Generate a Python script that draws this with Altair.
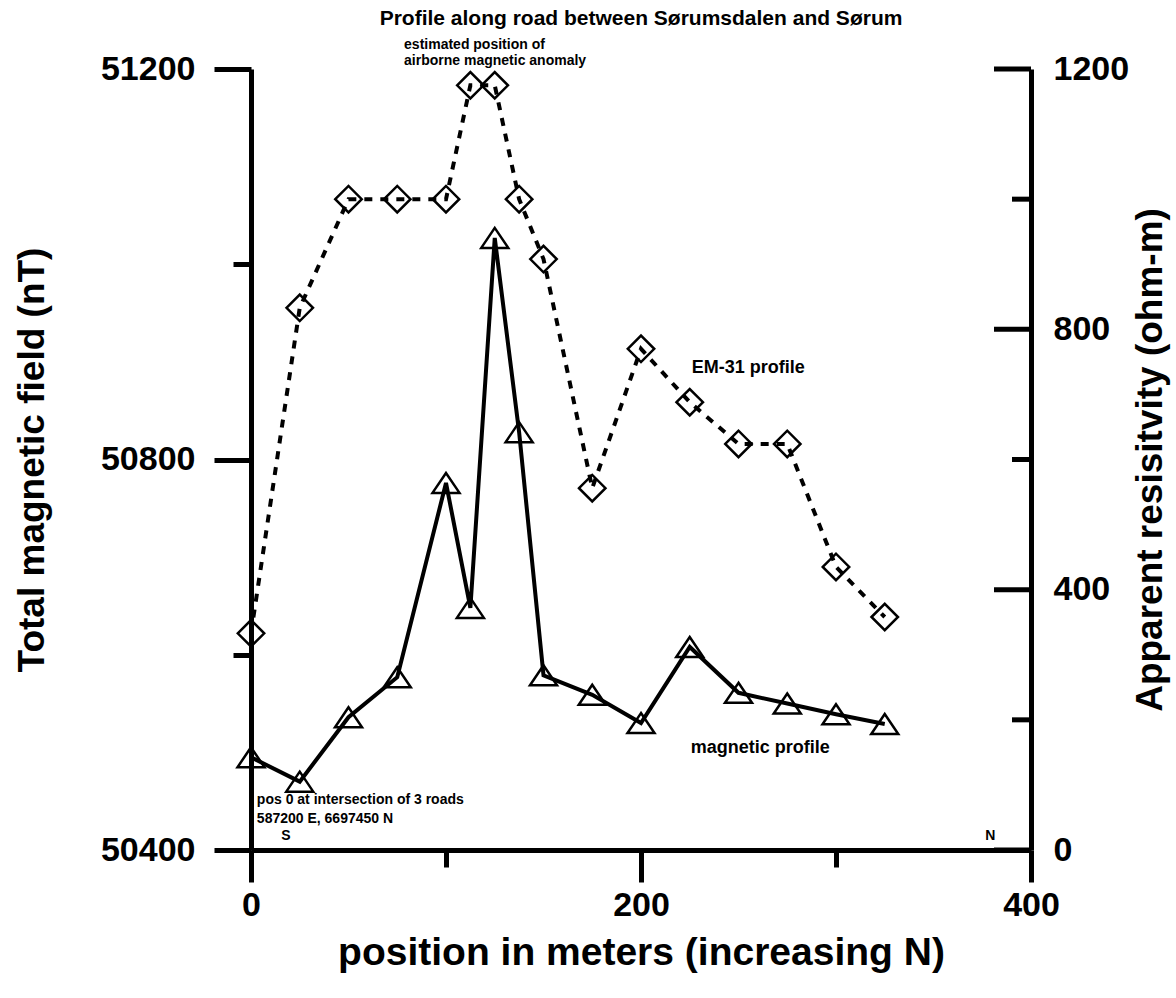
import altair as alt
import pandas as pd

# ---- data ----
positions = [0, 25, 50, 75, 100, 112.5, 125, 137.5, 150, 175, 200, 225, 250, 275, 300, 325]
magnetic_nT = [50495, 50470, 50536, 50577, 50776, 50648, 51027, 50828, 50579,
               50559, 50530, 50608, 50561, 50550, 50539, 50529]
resistivity = [333, 833, 1000, 1000, 1000, 1175, 1175, 1000, 908,
               556, 770, 688, 624, 624, 435, 358]

x_ticks = [0, 100, 200, 300, 400]
nT_ticks = [50400, 50600, 50800, 51000, 51200]
ohm_major = [0, 400, 800, 1200]
ohm_minor = [200, 600, 1000]

title_text = ["Profile along road between Sørumsdalen and Sørum"]

small_notes = ["estimated position of", "airborne magnetic anomaly",
               "pos 0 at intersection of 3 roads", "587200 E, 6697450 N", "S", "N"]
small_pos = [78.5, 78.5, 3, 3, 15.5, 376.5]
small_nT = [51225, 51208, 50451, 50432, 50414, 50414]

big_notes = ["EM-31 profile", "magnetic profile"]
big_pos = [226, 225.5]
big_nT = [50894, 50504]

W, H = 780, 781
FONT = "Liberation Sans"

df = pd.DataFrame({"pos": positions, "nT": magnetic_nT, "ohm": resistivity})

x_enc = alt.X(
    "pos:Q",
    scale=alt.Scale(domain=[0, 400], nice=False, zero=False),
    axis=alt.Axis(
        values=x_ticks, format="d",
        labelExpr="datum.value % 200 == 0 ? datum.label : ''",
        tickSize=alt.condition("datum.value % 200 == 0", alt.value(32), alt.value(17)),
        tickWidth=5, tickColor="black", domainWidth=5, domainColor="black",
        labelFont=FONT, labelFontSize=34, labelFontWeight="bold", labelColor="black",
        labelPadding=6, labelFlush=False, grid=False,
        title="position in meters (increasing N)", titleFont=FONT, titleFontSize=39,
        titleFontWeight="bold", titleColor="black",
        titleX=W / 2, titleY=102, titleAlign="center", titleBaseline="middle",
    ),
)

y_left = alt.Y(
    "nT:Q",
    scale=alt.Scale(domain=[50400, 51200], nice=False, zero=False),
    axis=alt.Axis(
        values=nT_ticks, format="d",
        labelExpr="datum.value % 400 == 0 ? datum.label : ''",
        tickSize=alt.condition("datum.value % 400 == 0", alt.value(37), alt.value(18)),
        tickWidth=5, tickColor="black", domainWidth=5, domainColor="black",
        labelFont=FONT, labelFontSize=34, labelFontWeight="bold", labelColor="black",
        labelPadding=19, labelFlush=False, grid=False,
        title="Total magnetic field (nT)", titleFont=FONT, titleFontSize=37,
        titleFontWeight="bold", titleColor="black", titleAngle=270,
        titleX=-219, titleY=H / 2, titleAlign="center", titleBaseline="middle",
    ),
)

y_right = alt.Y(
    "ohm:Q",
    scale=alt.Scale(domain=[0, 1200], nice=False, zero=True),
    axis=alt.Axis(
        orient="right", values=ohm_major, format="d", ticks=False,
        domainWidth=5, domainColor="black",
        labelFont=FONT, labelFontSize=34, labelFontWeight="bold", labelColor="black",
        labelPadding=22, labelFlush=False, grid=False,
        title="Apparent resisitvity (ohm-m)", titleFont=FONT, titleFontSize=37,
        titleFontWeight="bold", titleColor="black", titleAngle=270,
        titleX=119, titleY=H / 2, titleAlign="center", titleBaseline="middle",
    ),
)

base = alt.Chart(df)

mag_line = base.mark_line(color="black", strokeWidth=4).encode(x=x_enc, y=y_left)
mag_pts = base.mark_point(
    shape="M0,-0.74L-1,0.74L1,0.74Z", size=729, filled=False,
    stroke="black", strokeWidth=2.5, opacity=1,
).encode(x=x_enc, y=y_left)

small_df = pd.DataFrame({"pos": small_pos, "nT": small_nT, "t": small_notes})
small_layer = alt.Chart(small_df).mark_text(
    align="left", baseline="middle", font=FONT, fontSize=14, fontWeight="bold", color="black"
).encode(x=x_enc, y=y_left, text="t:N")

big_df = pd.DataFrame({"pos": big_pos, "nT": big_nT, "t": big_notes})
big_layer = alt.Chart(big_df).mark_text(
    align="left", baseline="middle", font=FONT, fontSize=18, fontWeight="bold", color="black"
).encode(x=x_enc, y=y_left, text="t:N")

title_layer = alt.Chart(pd.DataFrame({"t": title_text})).mark_text(
    align="center", baseline="middle", font=FONT, fontSize=21, fontWeight="bold", color="black"
).encode(x=alt.value(W / 2), y=alt.value(-50), text="t:N")

em_line = base.mark_line(color="black", strokeWidth=4, strokeDash=[8, 8]).encode(x=x_enc, y=y_right)
em_pts = base.mark_point(
    shape="diamond", size=700, filled=False,
    stroke="black", strokeWidth=2.5, opacity=1,
).encode(x=x_enc, y=y_right)

tick_major = alt.Chart(pd.DataFrame({"ohm": ohm_major})).mark_rule(
    color="black", strokeWidth=5
).encode(y=y_right, x=alt.value(W - 37), x2=alt.value(W))
tick_minor = alt.Chart(pd.DataFrame({"ohm": ohm_minor})).mark_rule(
    color="black", strokeWidth=5
).encode(y=y_right, x=alt.value(W - 19), x2=alt.value(W))

mag_group = alt.layer(mag_line, mag_pts, small_layer, big_layer, title_layer)
em_group = alt.layer(em_line, em_pts, tick_major, tick_minor)

chart = (
    alt.layer(mag_group, em_group)
    .resolve_scale(y="independent")
    .properties(
        width=W, height=H,
        autosize=alt.AutoSizeParams(type="none"),
        padding={"left": 251, "top": 69, "right": 145, "bottom": 148},
        background="white",
    )
    .configure_view(stroke=None)
)

chart.save("out.html", embed_options={"renderer": "svg", "actions": False})
